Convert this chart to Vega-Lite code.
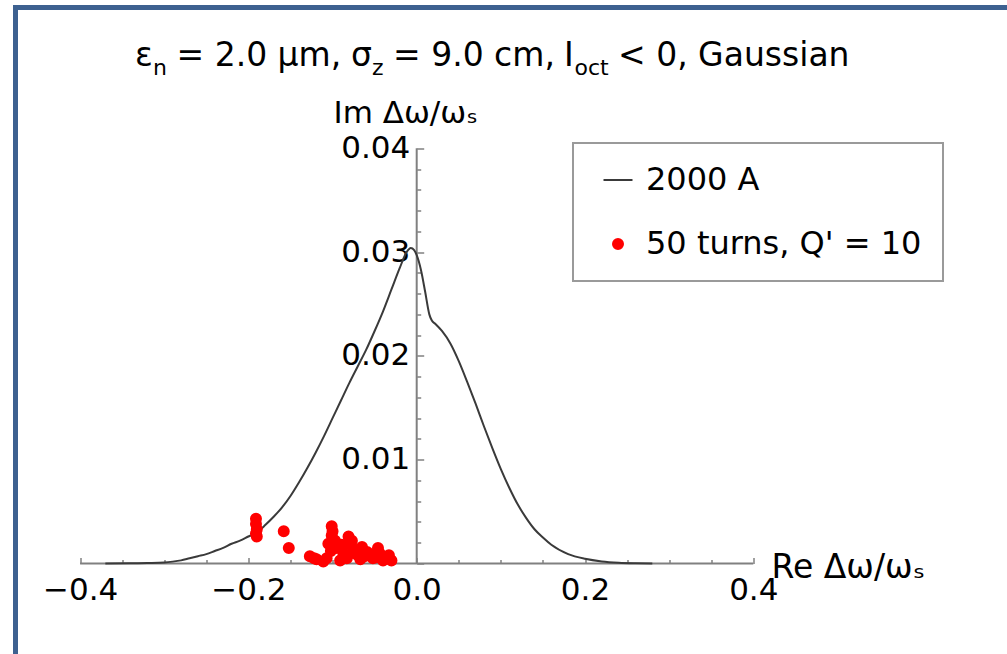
{
  "$schema": "https://vega.github.io/schema/vega-lite/v6.json",
  "width": 991.5,
  "height": 646.5,
  "autosize": {"type": "none"},
  "padding": {"left": 15.5, "top": 7.5, "right": 0, "bottom": 0},
  "background": "white",
  "data": {"values": [{}]},
  "datasets": {
    "curve": [
      {"re": -0.37, "im": 0.00001},
      {"re": -0.34, "im": 0.00002},
      {"re": -0.32, "im": 0.00005},
      {"re": -0.30, "im": 0.0001},
      {"re": -0.29, "im": 0.00018},
      {"re": -0.28, "im": 0.0003},
      {"re": -0.27, "im": 0.0005},
      {"re": -0.26, "im": 0.0007},
      {"re": -0.25, "im": 0.0009},
      {"re": -0.24, "im": 0.0012},
      {"re": -0.23, "im": 0.0015},
      {"re": -0.22, "im": 0.0019},
      {"re": -0.21, "im": 0.0022},
      {"re": -0.20, "im": 0.0026},
      {"re": -0.19, "im": 0.0030},
      {"re": -0.18, "im": 0.0037},
      {"re": -0.17, "im": 0.0045},
      {"re": -0.16, "im": 0.0054},
      {"re": -0.15, "im": 0.0065},
      {"re": -0.14, "im": 0.0078},
      {"re": -0.13, "im": 0.0092},
      {"re": -0.12, "im": 0.0107},
      {"re": -0.11, "im": 0.0123},
      {"re": -0.10, "im": 0.0140},
      {"re": -0.09, "im": 0.0157},
      {"re": -0.08, "im": 0.0174},
      {"re": -0.07, "im": 0.0190},
      {"re": -0.06, "im": 0.0206},
      {"re": -0.05, "im": 0.0224},
      {"re": -0.04, "im": 0.0243},
      {"re": -0.03, "im": 0.0264},
      {"re": -0.02, "im": 0.0285},
      {"re": -0.012, "im": 0.0300},
      {"re": -0.007, "im": 0.0304},
      {"re": -0.003, "im": 0.0302},
      {"re": 0.0, "im": 0.0297},
      {"re": 0.005, "im": 0.0283},
      {"re": 0.010, "im": 0.0262},
      {"re": 0.015, "im": 0.0240},
      {"re": 0.018, "im": 0.0234},
      {"re": 0.022, "im": 0.0231},
      {"re": 0.03, "im": 0.0224},
      {"re": 0.04, "im": 0.0212},
      {"re": 0.05, "im": 0.0195},
      {"re": 0.06, "im": 0.0175},
      {"re": 0.07, "im": 0.0154},
      {"re": 0.08, "im": 0.0132},
      {"re": 0.09, "im": 0.0111},
      {"re": 0.10, "im": 0.0091},
      {"re": 0.11, "im": 0.0073},
      {"re": 0.12, "im": 0.0057},
      {"re": 0.13, "im": 0.0044},
      {"re": 0.14, "im": 0.0033},
      {"re": 0.15, "im": 0.0025},
      {"re": 0.16, "im": 0.0018},
      {"re": 0.18, "im": 0.0009},
      {"re": 0.20, "im": 0.00045},
      {"re": 0.22, "im": 0.0002},
      {"re": 0.24, "im": 0.00008},
      {"re": 0.26, "im": 0.00003},
      {"re": 0.28, "im": 0.00001}
    ],
    "turns": [
      {"re": -0.191, "im": 0.0043, "series": "50 turns, Q' = 10"},
      {"re": -0.191, "im": 0.0038, "series": "50 turns, Q' = 10"},
      {"re": -0.190, "im": 0.0033, "series": "50 turns, Q' = 10"},
      {"re": -0.191, "im": 0.0029, "series": "50 turns, Q' = 10"},
      {"re": -0.190, "im": 0.0026, "series": "50 turns, Q' = 10"},
      {"re": -0.158, "im": 0.0031, "series": "50 turns, Q' = 10"},
      {"re": -0.152, "im": 0.0015, "series": "50 turns, Q' = 10"},
      {"re": -0.127, "im": 0.0007, "series": "50 turns, Q' = 10"},
      {"re": -0.122, "im": 0.0005, "series": "50 turns, Q' = 10"},
      {"re": -0.119, "im": 0.0004, "series": "50 turns, Q' = 10"},
      {"re": -0.111, "im": 0.0002, "series": "50 turns, Q' = 10"},
      {"re": -0.101, "im": 0.0036, "series": "50 turns, Q' = 10"},
      {"re": -0.100, "im": 0.0031, "series": "50 turns, Q' = 10"},
      {"re": -0.101, "im": 0.0027, "series": "50 turns, Q' = 10"},
      {"re": -0.097, "im": 0.0022, "series": "50 turns, Q' = 10"},
      {"re": -0.105, "im": 0.0019, "series": "50 turns, Q' = 10"},
      {"re": -0.107, "im": 0.0005, "series": "50 turns, Q' = 10"},
      {"re": -0.102, "im": 0.0012, "series": "50 turns, Q' = 10"},
      {"re": -0.095, "im": 0.0015, "series": "50 turns, Q' = 10"},
      {"re": -0.091, "im": 0.0003, "series": "50 turns, Q' = 10"},
      {"re": -0.089, "im": 0.0018, "series": "50 turns, Q' = 10"},
      {"re": -0.087, "im": 0.0009, "series": "50 turns, Q' = 10"},
      {"re": -0.083, "im": 0.0005, "series": "50 turns, Q' = 10"},
      {"re": -0.081, "im": 0.0026, "series": "50 turns, Q' = 10"},
      {"re": -0.077, "im": 0.0022, "series": "50 turns, Q' = 10"},
      {"re": -0.078, "im": 0.0016, "series": "50 turns, Q' = 10"},
      {"re": -0.075, "im": 0.0010, "series": "50 turns, Q' = 10"},
      {"re": -0.072, "im": 0.0013, "series": "50 turns, Q' = 10"},
      {"re": -0.070, "im": 0.0008, "series": "50 turns, Q' = 10"},
      {"re": -0.067, "im": 0.0004, "series": "50 turns, Q' = 10"},
      {"re": -0.065, "im": 0.0016, "series": "50 turns, Q' = 10"},
      {"re": -0.062, "im": 0.0007, "series": "50 turns, Q' = 10"},
      {"re": -0.059, "im": 0.0011, "series": "50 turns, Q' = 10"},
      {"re": -0.055, "im": 0.0009, "series": "50 turns, Q' = 10"},
      {"re": -0.052, "im": 0.0005, "series": "50 turns, Q' = 10"},
      {"re": -0.048, "im": 0.0006, "series": "50 turns, Q' = 10"},
      {"re": -0.046, "im": 0.0015, "series": "50 turns, Q' = 10"},
      {"re": -0.044, "im": 0.0010, "series": "50 turns, Q' = 10"},
      {"re": -0.040, "im": 0.0003, "series": "50 turns, Q' = 10"},
      {"re": -0.036, "im": 0.0005, "series": "50 turns, Q' = 10"},
      {"re": -0.033, "im": 0.0008, "series": "50 turns, Q' = 10"},
      {"re": -0.030, "im": 0.0003, "series": "50 turns, Q' = 10"}
    ]
  },
  "layer": [
    {
      "mark": {"type": "rule", "color": "#808080", "strokeWidth": 2},
      "encoding": {
        "x": {"datum": -0.4, "type": "quantitative"},
        "x2": {"datum": 0.4},
        "y": {"datum": 0, "type": "quantitative"}
      }
    },
    {
      "mark": {"type": "rule", "color": "#808080", "strokeWidth": 2},
      "encoding": {
        "x": {"datum": 0, "type": "quantitative"},
        "y": {"datum": 0, "type": "quantitative"},
        "y2": {"datum": 0.04}
      }
    },
    {
      "data": {"name": "curve"},
      "mark": {"type": "line", "color": "#3a3a3a", "strokeWidth": 2, "interpolate": "monotone"},
      "encoding": {
        "x": {
          "field": "re",
          "type": "quantitative",
          "scale": {"domain": [-0.476768, 0.701485], "nice": false, "zero": false},
          "axis": {
            "orient": "bottom",
            "offset": -90.5,
            "domain": false,
            "grid": false,
            "values": [-0.4, -0.35, -0.3, -0.25, -0.2, -0.15, -0.1, -0.05, 0, 0.05, 0.1, 0.15, 0.2, 0.25, 0.3, 0.35, 0.4],
            "tickCount": 1000,
            "format": ".1f",
            "labelExpr": "abs(datum.value * 5 - round(datum.value * 5)) < 1e-6 ? datum.label : ''",
            "tickSize": {"condition": {"test": "abs(datum.value * 5 - round(datum.value * 5)) < 1e-6", "value": -6}, "value": -4},
            "tickColor": "#808080",
            "tickWidth": 1.5,
            "labelFont": "DejaVu Sans",
            "labelFontSize": 31,
            "labelColor": "#000000",
            "labelPadding": 18,
            "labelFlush": false,
            "labelOverlap": false,
            "labelBound": false,
            "title": "Re Δω/ωₛ",
            "titleFont": "DejaVu Sans",
            "titleFontSize": 33,
            "titleFontWeight": "normal",
            "titleColor": "#000000",
            "titleAngle": 0,
            "titleAlign": "left",
            "titleBaseline": "alphabetic",
            "titleX": 755.5,
            "titleY": 13.5
          }
        },
        "y": {
          "field": "im",
          "type": "quantitative",
          "scale": {"domain": [-0.008719, 0.053565], "nice": false, "zero": false},
          "axis": {
            "orient": "left",
            "offset": -401.2,
            "domain": false,
            "grid": false,
            "values": [0, 0.002, 0.004, 0.006, 0.008, 0.01, 0.012, 0.014, 0.016, 0.018, 0.02, 0.022, 0.024, 0.026, 0.028, 0.03, 0.032, 0.034, 0.036, 0.038, 0.04],
            "tickCount": 1000,
            "format": ".2f",
            "labelExpr": "datum.value > 0.001 && abs(datum.value * 100 - round(datum.value * 100)) < 1e-6 ? datum.label : ''",
            "tickSize": {"condition": {"test": "abs(datum.value * 100 - round(datum.value * 100)) < 1e-6", "value": -7}, "value": -4},
            "tickColor": "#808080",
            "tickWidth": 1.5,
            "labelFont": "DejaVu Sans",
            "labelFontSize": 31,
            "labelColor": "#000000",
            "labelPadding": 14,
            "labelAlign": "right",
            "labelBaseline": "middle",
            "labelFlush": false,
            "labelOverlap": false,
            "labelBound": false,
            "title": "Im Δω/ωₛ",
            "titleFont": "DejaVu Sans",
            "titleFontSize": 31,
            "titleFontWeight": "normal",
            "titleColor": "#000000",
            "titleAngle": 0,
            "titleAlign": "left",
            "titleBaseline": "alphabetic",
            "titleX": -83.7,
            "titleY": 115
          }
        }
      }
    },
    {
      "data": {"name": "turns"},
      "mark": {"type": "point", "filled": true, "strokeWidth": 2, "opacity": 1},
      "encoding": {
        "x": {"field": "re", "type": "quantitative"},
        "y": {"field": "im", "type": "quantitative"},
        "color": {
          "field": "series",
          "type": "nominal",
          "scale": {"domain": ["2000 A", "50 turns, Q' = 10"], "range": ["#3a3a3a", "#ff0000"]},
          "legend": {
            "title": null,
            "orient": "none",
            "legendX": 557.5,
            "legendY": 135.5,
            "padding": 21,
            "symbolOffset": 8,
            "labelOffset": 12,
            "rowPadding": 32,
            "symbolStrokeWidth": 2,
            "labelLimit": 500,
            "labelFont": "DejaVu Sans",
            "labelFontSize": 32,
            "labelColor": "#000000",
            "strokeColor": "#9a9a9a",
            "fillColor": "#ffffff"
          }
        },
        "stroke": {
          "field": "series",
          "type": "nominal",
          "scale": {"domain": ["2000 A", "50 turns, Q' = 10"], "range": ["#3a3a3a", "#ff0000"]},
          "legend": {"title": null}
        },
        "shape": {
          "field": "series",
          "type": "nominal",
          "scale": {"domain": ["2000 A", "50 turns, Q' = 10"], "range": ["stroke", "circle"]},
          "legend": {"title": null}
        },
        "size": {
          "field": "series",
          "type": "nominal",
          "scale": {"domain": ["2000 A", "50 turns, Q' = 10"], "range": [841, 100]},
          "legend": {"title": null}
        }
      }
    },
    {
      "mark": {"type": "text", "text": "ε", "align": "left", "baseline": "alphabetic", "font": "DejaVu Sans", "fontSize": 33, "color": "#000000"},
      "encoding": {
        "x": {"datum": -0.33476, "type": "quantitative"},
        "y": {"datum": 0.04793, "type": "quantitative"}
      }
    },
    {
      "mark": {"type": "text", "text": "n", "align": "left", "baseline": "alphabetic", "font": "DejaVu Sans", "fontSize": 22, "color": "#000000"},
      "encoding": {
        "x": {"datum": -0.31337, "type": "quantitative"},
        "y": {"datum": 0.04706, "type": "quantitative"}
      }
    },
    {
      "mark": {"type": "text", "text": "= 2.0 μm,", "align": "left", "baseline": "alphabetic", "font": "DejaVu Sans", "fontSize": 33, "color": "#000000"},
      "encoding": {
        "x": {"datum": -0.28544, "type": "quantitative"},
        "y": {"datum": 0.04793, "type": "quantitative"}
      }
    },
    {
      "mark": {"type": "text", "text": "σ", "align": "left", "baseline": "alphabetic", "font": "DejaVu Sans", "fontSize": 33, "color": "#000000"},
      "encoding": {
        "x": {"datum": -0.07807, "type": "quantitative"},
        "y": {"datum": 0.04793, "type": "quantitative"}
      }
    },
    {
      "mark": {"type": "text", "text": "z", "align": "left", "baseline": "alphabetic", "font": "DejaVu Sans", "fontSize": 22, "color": "#000000"},
      "encoding": {
        "x": {"datum": -0.05312, "type": "quantitative"},
        "y": {"datum": 0.04706, "type": "quantitative"}
      }
    },
    {
      "mark": {"type": "text", "text": "= 9.0 cm,", "align": "left", "baseline": "alphabetic", "font": "DejaVu Sans", "fontSize": 33, "color": "#000000"},
      "encoding": {
        "x": {"datum": -0.02816, "type": "quantitative"},
        "y": {"datum": 0.04793, "type": "quantitative"}
      }
    },
    {
      "mark": {"type": "text", "text": "I", "align": "left", "baseline": "alphabetic", "font": "DejaVu Sans", "fontSize": 33, "color": "#000000"},
      "encoding": {
        "x": {"datum": 0.17505, "type": "quantitative"},
        "y": {"datum": 0.04793, "type": "quantitative"}
      }
    },
    {
      "mark": {"type": "text", "text": "oct", "align": "left", "baseline": "alphabetic", "font": "DejaVu Sans", "fontSize": 22, "color": "#000000"},
      "encoding": {
        "x": {"datum": 0.18752, "type": "quantitative"},
        "y": {"datum": 0.04706, "type": "quantitative"}
      }
    },
    {
      "mark": {"type": "text", "text": "< 0, Gaussian", "align": "left", "baseline": "alphabetic", "font": "DejaVu Sans", "fontSize": 33, "color": "#000000"},
      "encoding": {
        "x": {"datum": 0.23922, "type": "quantitative"},
        "y": {"datum": 0.04793, "type": "quantitative"}
      }
    }
  ],
  "config": {
    "view": {
      "fill": "white",
      "stroke": "#3d6190",
      "strokeWidth": 5,
      "strokeDash": [991.5, 1638, 646.5, 0],
      "strokeCap": "square"
    },
    "legend": {"strokeWidth": 2}
  }
}
